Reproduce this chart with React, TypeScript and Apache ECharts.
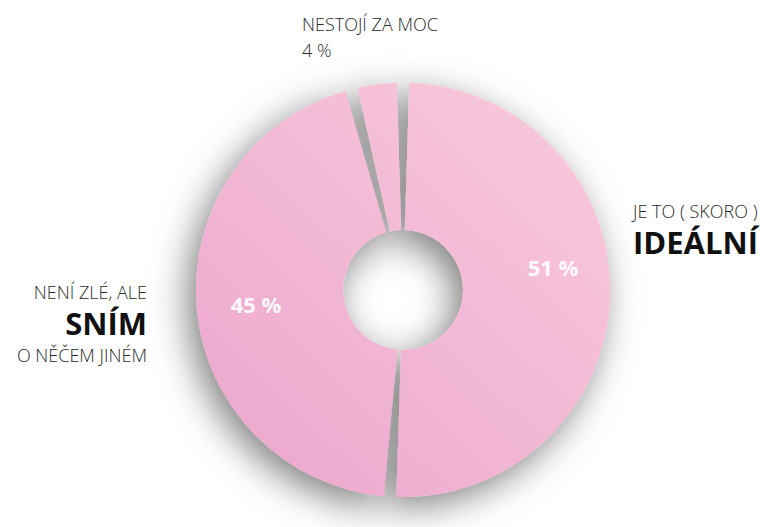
import React, { useEffect, useRef } from "react";
import * as echarts from "echarts";

const categories = ["JE TO ( SKORO ) IDEÁLNÍ", "NENÍ ZLÉ, ALE SNÍM O NĚČEM JINÉM", "NESTOJÍ ZA MOC"];
const values = [51, 45, 4];
const labelTop = ["JE TO ( SKORO )", "NENÍ ZLÉ, ALE", "NESTOJÍ ZA MOC"];
const labelMain = ["IDEÁLNÍ", "SNÍM", ""];
const labelBottom = ["", "O NĚČEM JINÉM", ""];
const showInside = [true, true, false];

const FONT = "'Open Sans', 'Noto Sans', sans-serif";

const outerPos = [
  { x: 633, y: 198, align: "left" },
  { x: 147, y: 279, align: "right" },
  { x: 302, y: 11, align: "left" },
];
const innerPos = [
  { x: 553, y: 267 },
  { x: 256, y: 304 },
  { x: 403, y: 100 },
];

const pinkGradient = {
  type: "linear",
  x: 600,
  y: 90,
  x2: 230,
  y2: 480,
  global: true,
  colorStops: [
    { offset: 0, color: "#f9cbdc" },
    { offset: 1, color: "#eca7ce" },
  ],
};

export default function App() {
  const ref = useRef<HTMLDivElement>(null);
  useEffect(() => {
    if (!ref.current) return;
    const chart = echarts.init(ref.current, null, { renderer: "svg" });
    const center = [403, 290];
    const radius = [60, 207];
    const outerData = categories.map((name, i) => ({
      name,
      value: values[i],
      label: {
        formatter: () => {
          const lines: string[] = [];
          lines.push("{t|" + labelTop[i] + "}");
          if (labelMain[i]) lines.push("{m|" + labelMain[i] + "}");
          else lines.push("{t|" + values[i] + " %}");
          if (labelBottom[i]) lines.push("{b|" + labelBottom[i] + "}");
          return lines.join("\n");
        },
      },
    }));
    const innerData = categories.map((name, i) => ({
      name,
      value: values[i],
      label: { show: showInside[i] },
    }));
    const option: any = {
      animation: false,
      backgroundColor: "#ffffff",
      series: [
        {
          type: "pie",
          z: 1,
          center,
          radius,
          startAngle: 90,
          clockwise: true,
          padAngle: 3.5,
          silent: true,
          itemStyle: {
            color: pinkGradient,
            shadowBlur: 36,
            shadowColor: "rgba(0,0,0,0.5)",
            shadowOffsetX: -8,
            shadowOffsetY: 10,
          },
          label: {
            show: true,
            position: "inside",
            fontFamily: FONT,
            rich: {
              t: { fontSize: 18, lineHeight: 26, color: "#2a2a2a", fontWeight: 300, fontFamily: FONT },
              m: { fontSize: 31, lineHeight: 36, color: "#111111", fontWeight: "bold", fontFamily: FONT },
              b: { fontSize: 18, lineHeight: 28, color: "#2a2a2a", fontWeight: 300, fontFamily: FONT },
            },
          },
          labelLine: { show: false },
          labelLayout: (p: any) => {
            const pos = outerPos[p.dataIndex];
            return { x: pos.x, y: pos.y, align: pos.align, verticalAlign: "top" };
          },
          data: outerData,
        },
        {
          type: "pie",
          z: 2,
          center,
          radius,
          startAngle: 90,
          clockwise: true,
          padAngle: 3.5,
          silent: true,
          itemStyle: { color: pinkGradient },
          label: {
            show: true,
            position: "inside",
            formatter: "{c} %",
            color: "rgba(255,255,255,0.92)",
            fontSize: 22,
            fontWeight: "bold",
            fontFamily: FONT,
          },
          labelLine: { show: false },
          labelLayout: (p: any) => {
            const pos = innerPos[p.dataIndex];
            return { x: pos.x, y: pos.y, align: "center", verticalAlign: "middle" };
          },
          data: innerData,
        },
      ],
    };
    chart.setOption(option);
    return () => chart.dispose();
  }, []);
  return (
    <div
      ref={ref}
      style={{ position: "fixed", left: 0, top: 0, width: 768, height: 527, background: "#fff" }}
    />
  );
}
